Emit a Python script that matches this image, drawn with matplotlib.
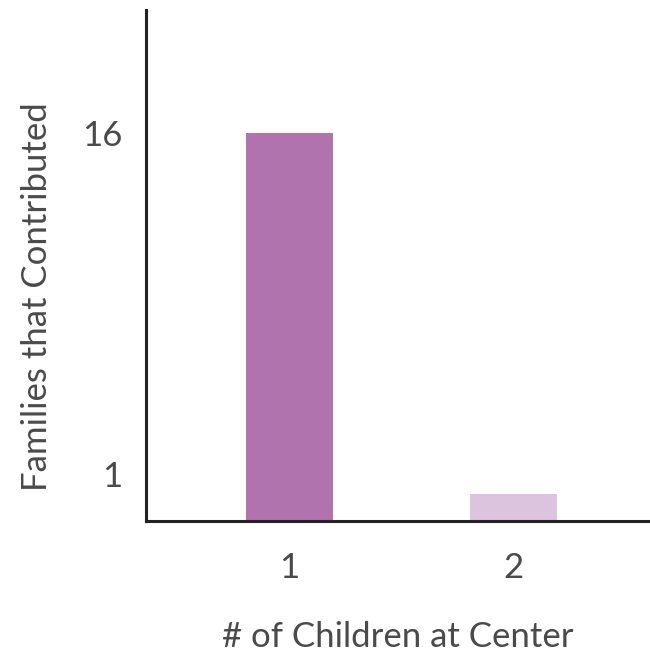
import matplotlib.pyplot as plt
import matplotlib.transforms as mtransforms

children = [1, 2]
families = [16, 1.1]
bar_colors = ['#b073ae', '#dcc3de']
y_ticks = [1, 16]
x_tick_labels = ['1', '2']

plt.rcParams['font.family'] = ['Lato', 'DejaVu Sans']
text_col = '#4a4a4a'

fig = plt.figure(figsize=(6.5, 6.54), dpi=100)
ax = fig.add_axes([146 / 650, 133 / 654, 504 / 650, 511 / 654])

ax.bar(children, families, width=0.39, color=bar_colors)

ax.set_xlim(0.36, 2.61)
ax.set_ylim(0, 21.07)
ax.set_xticks(children)
ax.set_xticklabels(x_tick_labels)
ax.set_yticks(y_ticks)
ax.set_yticklabels([str(t) for t in y_ticks])
ax.tick_params(length=0, labelsize=25, colors=text_col, pad=22)
ax.tick_params(axis='y', pad=17)

# the "1" label sits a bit above its tick in the original
lbl = ax.get_yticklabels()[0]
lbl.set_transform(lbl.get_transform() + mtransforms.ScaledTranslation(0, 0.23, fig.dpi_scale_trans))

for s in ['top', 'right']:
    ax.spines[s].set_visible(False)
for s in ['left', 'bottom']:
    ax.spines[s].set_linewidth(2.2)
    ax.spines[s].set_color('#222222')

ax.set_xlabel('# of Children at Center', fontsize=25, color=text_col)
ax.set_ylabel('Families that Contributed', fontsize=25, color=text_col)
ax.xaxis.set_label_coords(0.5, -0.195)
ax.yaxis.set_label_coords(-0.185, 0.44)

fig.savefig('out.png', dpi=100, facecolor='white')
